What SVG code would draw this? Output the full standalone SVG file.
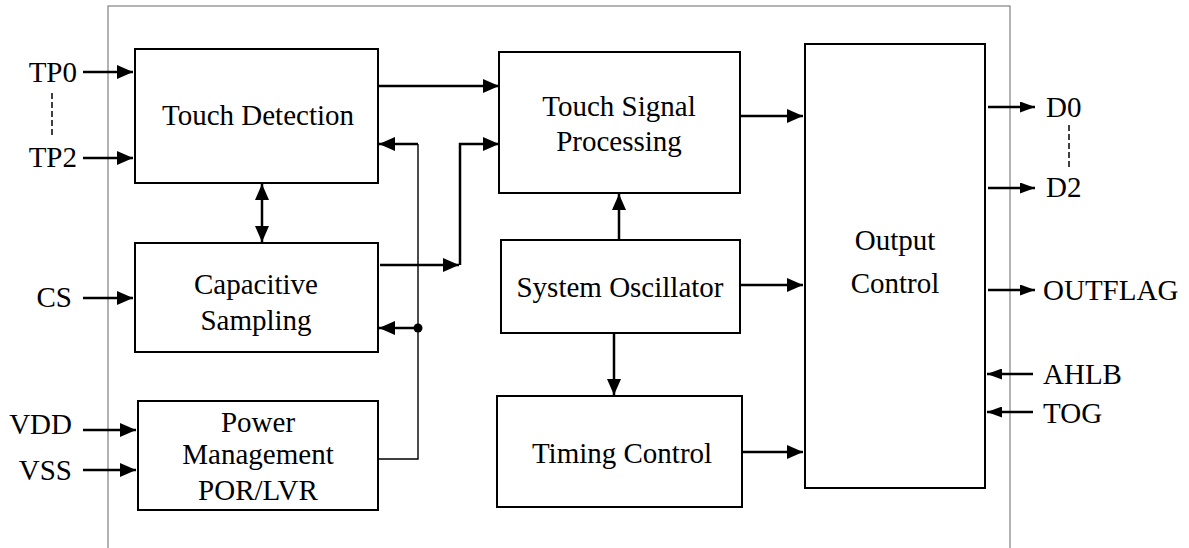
<svg xmlns="http://www.w3.org/2000/svg" width="1189" height="548" viewBox="0 0 1189 548" font-family="'Liberation Serif', 'Times New Roman', serif">
<style>
text{font-family:'Liberation Serif','Times New Roman',serif;font-size:29px;fill:#000}
.box{fill:#fff;stroke:#000;stroke-width:2}
.c{text-anchor:middle}
.e{text-anchor:end}
.w{fill:none;stroke:#000;stroke-width:2.5}
.t{fill:none;stroke:#000;stroke-width:1.4}
.d{fill:none;stroke:#000;stroke-width:1.5;stroke-dasharray:6,3}
</style>
<defs>
<marker id="a" markerUnits="userSpaceOnUse" viewBox="0 0 16 14" refX="16" refY="7" markerWidth="16" markerHeight="14" orient="auto-start-reverse"><path d="M0,0 L16,7 L0,14 z" fill="#000"/></marker>
<marker id="s" markerUnits="userSpaceOnUse" viewBox="0 0 15 11" refX="15" refY="5.5" markerWidth="15" markerHeight="11" orient="auto"><path d="M0,0 L15,5.5 L0,11 z" fill="#000"/></marker>
</defs>
<rect x="108" y="6" width="902" height="560" fill="none" stroke="#808080" stroke-width="1.2"/>
<g id="touch-detection"><rect class="box" x="135" y="49" width="243" height="134"/><text class="c" x="258" y="125">Touch Detection</text></g>
<g id="capacitive-sampling"><rect class="box" x="135" y="243" width="243" height="109"/><text class="c" x="256" y="294">Capacitive</text><text class="c" x="256" y="330">Sampling</text></g>
<g id="power-management"><rect class="box" x="138" y="401" width="240" height="109"/><text class="c" x="258" y="432">Power</text><text class="c" x="258" y="464">Management</text><text class="c" x="258" y="500">POR/LVR</text></g>
<g id="touch-signal-processing"><rect class="box" x="499" y="52" width="241" height="141"/><text class="c" x="619" y="116">Touch Signal</text><text class="c" x="619" y="151">Processing</text></g>
<g id="system-oscillator"><rect class="box" x="501" y="240" width="239" height="93"/><text class="c" x="620" y="297">System Oscillator</text></g>
<g id="timing-control"><rect class="box" x="497" y="396" width="245" height="111"/><text class="c" x="622" y="463">Timing Control</text></g>
<g id="output-control"><rect class="box" x="805" y="44" width="180" height="444"/><text class="c" x="895" y="250">Output</text><text class="c" x="895" y="293">Control</text></g>
<g id="pins">
<text class="e" x="77" y="82">TP0</text>
<text class="e" x="77" y="167">TP2</text>
<text class="e" x="72" y="307">CS</text>
<text class="e" x="72" y="434">VDD</text>
<text class="e" x="72" y="480">VSS</text>
<text x="1046" y="117">D0</text>
<text x="1046" y="197">D2</text>
<text x="1043" y="300">OUTFLAG</text>
<text x="1043" y="384">AHLB</text>
<text x="1043" y="423">TOG</text>
</g>
<g id="connectors">
<line class="d" x1="52" y1="93" x2="52" y2="138"/>
<line class="d" x1="1069" y1="125" x2="1069" y2="168"/>
<line class="w" x1="83" y1="72" x2="133" y2="72" marker-end="url(#a)"/>
<line class="w" x1="83" y1="158" x2="133" y2="158" marker-end="url(#a)"/>
<line class="w" x1="83" y1="298" x2="133" y2="298" marker-end="url(#a)"/>
<line class="w" x1="83" y1="430" x2="136" y2="430" marker-end="url(#a)"/>
<line class="w" x1="83" y1="470" x2="136" y2="470" marker-end="url(#a)"/>
<line class="w" x1="378" y1="86" x2="499" y2="86" marker-end="url(#a)"/>
<line class="w" x1="262" y1="184" x2="262" y2="242" marker-start="url(#a)" marker-end="url(#a)"/>
<line class="w" x1="380" y1="265" x2="459" y2="265" marker-end="url(#a)"/>
<polyline class="w" points="460,265 460,144 499,144" marker-end="url(#a)"/>
<polyline class="t" points="379,459 418,459 418,144"/>
<line class="w" x1="418" y1="144" x2="379" y2="144" marker-end="url(#a)"/>
<line class="w" x1="418" y1="328" x2="379" y2="328" marker-end="url(#a)"/>
<circle cx="418" cy="328" r="4.5" fill="#000"/>
<line class="w" x1="740" y1="116" x2="803" y2="116" marker-end="url(#a)"/>
<line class="w" x1="740" y1="285" x2="803" y2="285" marker-end="url(#a)"/>
<line class="w" x1="742" y1="452" x2="803" y2="452" marker-end="url(#a)"/>
<line class="w" x1="619" y1="239" x2="619" y2="194" marker-end="url(#a)"/>
<line class="w" x1="614" y1="334" x2="614" y2="395" marker-end="url(#a)"/>
<line class="w" x1="988" y1="107" x2="1035" y2="107" marker-end="url(#s)"/>
<line class="w" x1="988" y1="188" x2="1035" y2="188" marker-end="url(#s)"/>
<line class="w" x1="988" y1="290" x2="1035" y2="290" marker-end="url(#s)"/>
<line class="w" x1="1033" y1="374" x2="987" y2="374" marker-end="url(#s)"/>
<line class="w" x1="1033" y1="412" x2="987" y2="412" marker-end="url(#s)"/>
</g>
</svg>
